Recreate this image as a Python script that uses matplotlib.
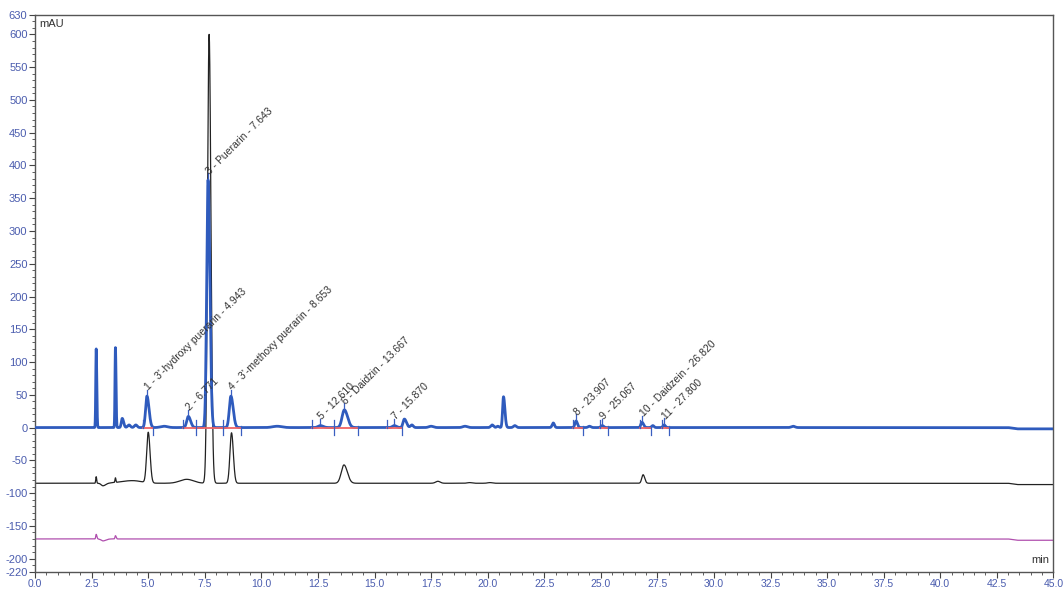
import matplotlib.pyplot as plt
import numpy as np
from matplotlib.ticker import MultipleLocator, FuncFormatter

plt.rcParams['axes.unicode_minus'] = False
plt.rcParams['font.family'] = ['Liberation Sans', 'DejaVu Sans']

# time axis (min)
t = np.linspace(0, 45, 9001)

# UV trace (blue): peak centre, height (mAU), sigma left, sigma right
blue_pos = [2.70, 3.55, 3.85, 4.15, 4.45, 4.943, 5.7, 6.771, 7.643, 8.653, 10.7,
            12.61, 13.667, 15.87, 16.32, 16.65, 17.5, 19.0, 20.2, 20.45, 20.7,
            21.2, 22.9, 23.907, 24.5, 25.067, 26.82, 27.3, 27.8, 33.5]
blue_height = [120, 122, 14, 4, 4, 48, 2, 17, 378, 48, 2,
               3, 27, 3, 13, 4, 2, 2, 4, 2, 47,
               3, 7, 10, 2, 3, 8, 3, 4, 2]
blue_sig_l = [0.02, 0.02, 0.04, 0.06, 0.06, 0.06, 0.15, 0.07, 0.06, 0.07, 0.2,
              0.1, 0.1, 0.08, 0.06, 0.06, 0.1, 0.1, 0.06, 0.05, 0.04,
              0.06, 0.05, 0.05, 0.06, 0.06, 0.05, 0.05, 0.05, 0.08]
blue_sig_r = [0.025, 0.025, 0.06, 0.06, 0.06, 0.09, 0.15, 0.1, 0.08, 0.1, 0.2,
              0.12, 0.14, 0.1, 0.09, 0.06, 0.1, 0.1, 0.06, 0.05, 0.06,
              0.06, 0.05, 0.06, 0.06, 0.06, 0.07, 0.05, 0.05, 0.08]
blue_base = 0.0

# second trace (black), offset baseline
black_pos = [2.70, 3.0, 3.55, 4.3, 5.0, 6.7, 7.69, 8.68, 13.65, 17.8, 19.2, 20.1, 26.87]
black_height = [10, -4, 7, 4, 77, 6, 685, 77, 28, 3, 1, 1, 13]
black_sig_l = [0.02, 0.08, 0.02, 0.5, 0.07, 0.3, 0.07, 0.07, 0.12, 0.1, 0.1, 0.1, 0.06]
black_sig_r = [0.02, 0.12, 0.02, 0.4, 0.08, 0.3, 0.08, 0.08, 0.15, 0.1, 0.1, 0.1, 0.07]
black_base = -85.0

# third trace (magenta)
mag_pos = [2.70, 3.0, 3.55]
mag_height = [7, -3, 5]
mag_sig_l = [0.02, 0.08, 0.02]
mag_sig_r = [0.03, 0.12, 0.03]
mag_base = -170.0

# late baseline drop after 43 min
drift_start, drift_depth = [43.0, 2.0]

# integrated peaks
peak_labels = ["1 - 3'-hydroxy puerarin - 4.943", "2 - 6.771", "3 - Puerarin - 7.643",
               "4 - 3'-methoxy puerarin - 8.653", "5 - 12.610", "6 - Daidzin - 13.667",
               "7 - 15.870", "8 - 23.907", "9 - 25.067", "10 - Daidzein - 26.820",
               "11 - 27.800"]
peak_rt = [4.943, 6.771, 7.643, 8.653, 12.610, 13.667, 15.870, 23.907, 25.067, 26.820, 27.800]
peak_apex = [48, 17, 378, 48, 3, 27, 3, 10, 3, 8, 4]
win_start = [4.75, 6.55, 7.10, 8.30, 12.25, 13.20, 15.56, 23.75, 24.98, 26.75, 27.70]
win_end = [5.20, 7.10, 8.30, 9.10, 13.20, 14.25, 16.22, 24.20, 25.30, 27.20, 28.00]


def trace(pos, height, sig_l, sig_r, base):
    y = np.full_like(t, base)
    for p, h, sl, sr in zip(pos, height, sig_l, sig_r):
        s = np.where(t < p, sl, sr)
        y += h * np.exp(-(t - p) ** 2 / (2 * s ** 2))
    drift = np.clip((t - drift_start) / 0.4, 0, 1) * drift_depth
    return y - drift


blue = trace(blue_pos, blue_height, blue_sig_l, blue_sig_r, blue_base)
black = trace(black_pos, black_height, black_sig_l, black_sig_r, black_base)
magenta = trace(mag_pos, mag_height, mag_sig_l, mag_sig_r, mag_base)

tick_col = '#4a5cae'
fig = plt.figure(figsize=(10.64, 5.9), dpi=100)
ax = fig.add_axes([0.033, 0.031, 0.957, 0.944])

ax.plot(t, magenta, color='#b04fae', lw=0.9, zorder=2)
ax.plot(t, black, color='#222222', lw=0.9, zorder=2)
ax.plot(t, blue, color='#2f5bbd', lw=2.0, zorder=3)

# integration baselines and markers
for s, e in zip(win_start, win_end):
    ax.plot([s, e], [0, 0], color='#f06565', lw=1.3, zorder=4)
    ax.plot([s, s], [0, 12], color='#3a5fc0', lw=0.9, zorder=4)
    ax.plot([e, e], [3, -11], color='#3a5fc0', lw=0.9, zorder=4)

for lab, rt, h in zip(peak_labels, peak_rt, peak_apex):
    ax.plot([rt, rt], [h + 2, h + 10], color='#3a5fc0', lw=0.9, zorder=4)
    ax.text(rt + 0.15, h + 6, lab, rotation=45, rotation_mode='anchor',
            ha='left', va='bottom', fontsize=7.5, color='#333333', zorder=5)

ax.set_xlim(0, 45)
ax.set_ylim(-220, 630)
ax.set_yticks([-220, -200, -150, -100, -50, 0, 50, 100, 150, 200, 250, 300,
               350, 400, 450, 500, 550, 600, 630])
ax.yaxis.set_minor_locator(MultipleLocator(10))
ax.xaxis.set_major_locator(MultipleLocator(2.5))
ax.xaxis.set_minor_locator(MultipleLocator(0.5))
ax.xaxis.set_major_formatter(FuncFormatter(lambda v, _: '{:.1f}'.format(v)))
ax.tick_params(axis='both', which='major', labelsize=8, labelcolor=tick_col,
               length=4, width=0.8, color='#444444', pad=1.5)
ax.tick_params(axis='x', which='major', labelsize=7.5, pad=1)
ax.tick_params(axis='both', which='minor', length=2, width=0.6, color='#444444')
for sp in ax.spines.values():
    sp.set_color('#555555')
    sp.set_linewidth(1.0)

ax.text(0.004, 0.992, 'mAU', transform=ax.transAxes, ha='left', va='top',
        fontsize=8, color='#333333')
ax.text(0.996, 0.012, 'min', transform=ax.transAxes, ha='right', va='bottom',
        fontsize=8, color='#333333')

fig.savefig('out.png', dpi=100)
